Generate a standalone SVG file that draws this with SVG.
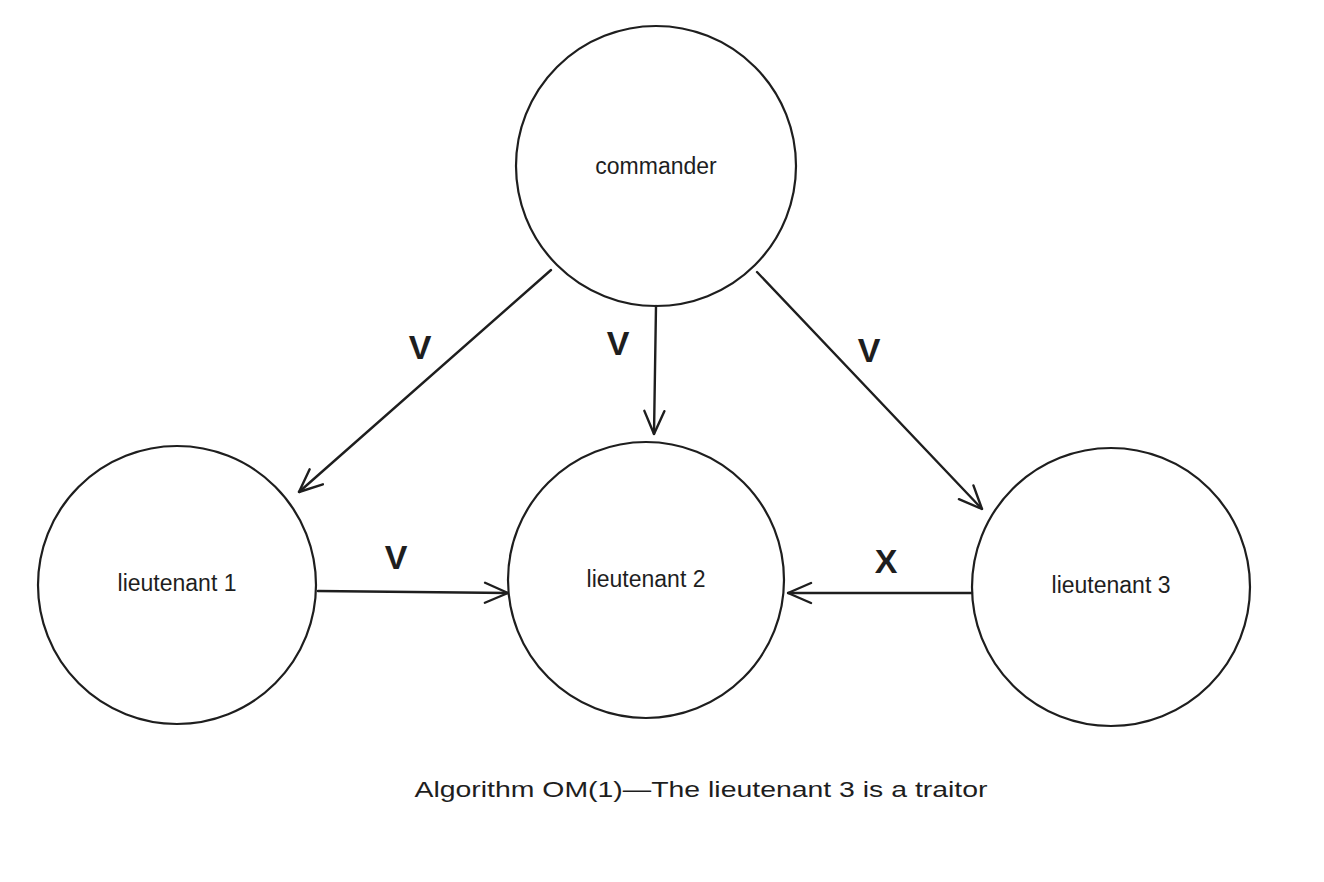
<svg xmlns="http://www.w3.org/2000/svg" width="1324" height="882" viewBox="0 0 1324 882">
<defs>
<marker id="ah" viewBox="0 0 26 26" refX="25" refY="13" markerWidth="26" markerHeight="26" markerUnits="userSpaceOnUse" orient="auto">
<path d="M2,3 L25,13 L2,23" fill="none" stroke="#1e1e1e" stroke-width="2.4" stroke-linecap="round" stroke-linejoin="round"/>
</marker>
<style>
.node{fill:#ffffff;stroke:#1e1e1e;stroke-width:2.2}
.lbl{font-family:"Liberation Sans",Arial,sans-serif;font-size:23px;fill:#1e1e1e;text-anchor:middle;dominant-baseline:central}
.edge{fill:none;stroke:#1e1e1e;stroke-width:2.4;stroke-linecap:round;marker-end:url(#ah)}
.el{font-family:"Liberation Sans",Arial,sans-serif;font-size:34px;font-weight:bold;fill:#1e1e1e;text-anchor:middle;dominant-baseline:central}
.cap{font-family:"Liberation Sans",Arial,sans-serif;font-size:22px;fill:#1e1e1e;text-anchor:middle;dominant-baseline:central}
</style>
</defs>
<rect width="1324" height="882" fill="#ffffff"/>
<g id="commander">
<circle class="node" cx="656" cy="166" r="140"/>
<text class="lbl" x="656" y="166">commander</text>
</g>
<g id="lieutenant1">
<circle class="node" cx="177" cy="585" r="139"/>
<text class="lbl" x="177" y="583">lieutenant 1</text>
</g>
<g id="lieutenant2">
<circle class="node" cx="646" cy="580" r="138"/>
<text class="lbl" x="646" y="579">lieutenant 2</text>
</g>
<g id="lieutenant3">
<circle class="node" cx="1111" cy="587" r="139"/>
<text class="lbl" x="1111" y="585">lieutenant 3</text>
</g>
<g id="connectors">
<path class="edge" d="M551,270 L299,492"/>
<path class="edge" d="M656,306 L654,434"/>
<path class="edge" d="M757,272 L982,509"/>
<path class="edge" d="M318,591 L508,593"/>
<path class="edge" d="M972,593 L788,593"/>
<text class="el" x="420" y="347">V</text>
<text class="el" x="618" y="343">V</text>
<text class="el" x="869" y="350">V</text>
<text class="el" x="396" y="557">V</text>
<text class="el" x="886" y="561">X</text>
</g>
<text class="cap" x="701" y="789" textLength="573" lengthAdjust="spacingAndGlyphs">Algorithm OM(1)—The lieutenant 3 is a traitor</text>
</svg>
